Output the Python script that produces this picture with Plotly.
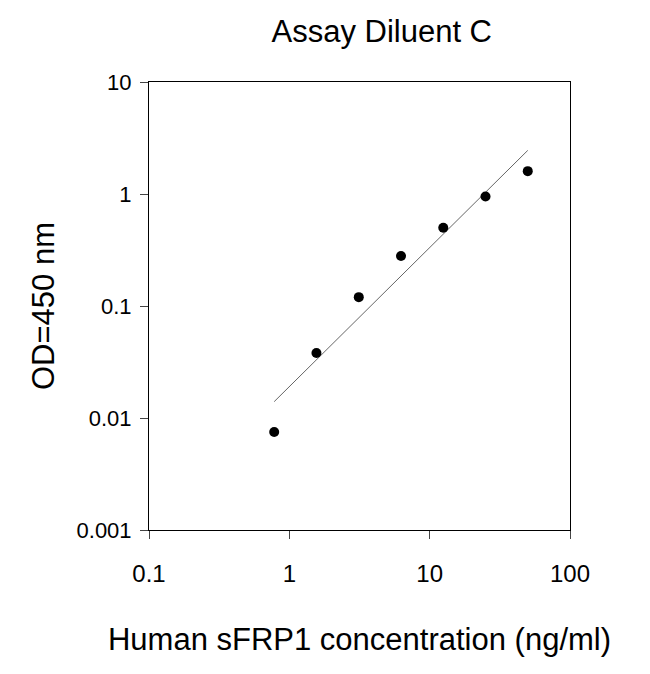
import plotly.graph_objects as go

conc = [0.78, 1.56, 3.125, 6.25, 12.5, 25, 50]
od = [0.0075, 0.038, 0.12, 0.28, 0.5, 0.95, 1.6]
fit_x = [0.78, 50]
fit_y = [0.014, 2.45]

fig = go.Figure()
fig.add_trace(go.Scatter(x=fit_x, y=fit_y, mode="lines", line=dict(color="#666666", width=1)))
fig.add_trace(go.Scatter(x=conc, y=od, mode="markers", marker=dict(color="black", size=10)))

font = dict(family="Liberation Sans, Arial, sans-serif", color="black")
fig.update_layout(
    width=650, height=674, showlegend=False,
    plot_bgcolor="white", paper_bgcolor="white",
    margin=dict(l=141, r=88, t=74, b=152),
    font=dict(**font, size=24),
    title=dict(text="Assay Diluent C", x=0.575, xanchor="center", y=0.965, yanchor="middle", font=dict(size=31)),
)
fig.update_xaxes(type="log", range=[-1, 2], tickvals=[0.1, 1, 10, 100], ticktext=["0.1", "1", "10", "100"],
                 showline=True, linecolor="black", linewidth=1, mirror=True, ticks="outside", ticklen=8,
                 showgrid=False, zeroline=False, tickfont=dict(size=24), ticklabelstandoff=14,
                 title=dict(text="Human sFRP1 concentration (ng/ml)", font=dict(size=31), standoff=42))
fig.update_yaxes(type="log", range=[-3, 1], tickvals=[0.001, 0.01, 0.1, 1, 10], ticktext=["0.001", "0.01", "0.1", "1", "10"],
                 showline=True, linecolor="black", linewidth=1, mirror=True, ticks="outside", ticklen=8,
                 showgrid=False, zeroline=False, tickfont=dict(size=22), ticklabelstandoff=4,
                 title=dict(text="OD=450 nm", font=dict(size=31), standoff=12))
fig.write_html("out.html")
